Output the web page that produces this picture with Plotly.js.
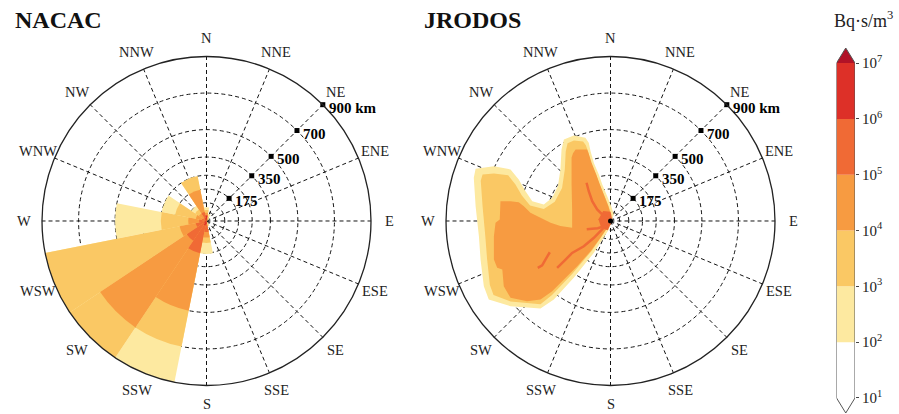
<!DOCTYPE html>
<html>
<head>
<meta charset="utf-8">
<script src="https://cdn.plot.ly/plotly-3.0.1.min.js"></script>
<style>
  html, body { margin: 0; padding: 0; background: #fff; }
  #chart { width: 899px; height: 414px; }
</style>
</head>
<body>
<div id="chart"></div>
<script>
// Compass sectors (bearing in degrees, clockwise from north)
const directions = ['N','NNE','NE','ENE','E','ESE','SE','SSE','S','SSW','SW','WSW','W','WNW','NW','NNW'];
const bearings = [0, 22.5, 45, 67.5, 90, 112.5, 135, 157.5, 180, 202.5, 225, 247.5, 270, 292.5, 315, 337.5];

// Distance rings (km) and the labelled ones along the NE spoke
const ringDistances = [50, 100, 175, 250, 350, 500, 700, 900];
const labelledDistances = [175, 350, 500, 700, 900];
const distanceLabels = ['175', '350', '500', '700', '900 km'];
const labelBearing = 45;

// Concentration levels (Bq·s/m³) and band colours
const levels = [1e1, 1e2, 1e3, 1e4, 1e5, 1e6, 1e7];
const bandColors = ['#FFFFFF', '#FDE9A0', '#FAC864', '#F79B41', '#F06A35', '#DD3028'];
const overColor = '#B11227';
const underColor = '#FFFFFF';
const levelTickText = ['10<sup>1</sup>','10<sup>2</sup>','10<sup>3</sup>','10<sup>4</sup>','10<sup>5</sup>','10<sup>6</sup>','10<sup>7</sup>'];

// NACAC: farthest distance (km) per sector at which each level is exceeded
const nacacReach1e2 = [75, 40, 20, 0, 0, 0, 0, 30, 180, 900, 900, 900, 500, 250, 100, 250];
const nacacReach1e3 = [60, 25, 10, 0, 0, 0, 0, 15, 120, 700, 900, 900, 250, 175, 75, 250];
const nacacReach1e4 = [45, 15, 0, 0, 0, 0, 0, 0, 90, 500, 700, 150, 100, 60, 50, 175];
const nacacReach1e5 = [30, 10, 0, 0, 0, 0, 0, 0, 60, 180, 130, 60, 40, 25, 20, 50];
const nacacReach1e6 = [30, 0, 0, 0, 0, 0, 0, 0, 15, 25, 15, 10, 10, 5, 5, 15];

// JRODOS plume contours, [east km, north km] from the source
const jrodos1e2 = [[9,8],[18,36],[4,81],[-18,136],[-45,200],[-64,254],[-91,318],[-109,382],[-119,428],
  [-137,455],[-201,468],[-255,446],[-268,391],[-274,282],[-288,190],[-319,127],[-365,90],[-428,108],
  [-465,163],[-502,227],[-547,282],[-638,300],[-738,286],[-748,236],[-738,81],[-720,-83],[-711,-211],
  [-693,-357],[-666,-429],[-547,-466],[-383,-479],[-310,-429],[-201,-311],[-91,-174],[-9,-46]];
const jrodos1e3 = [[0,5],[5,36],[-10,81],[-32,136],[-60,200],[-79,254],[-106,318],[-123,382],[-135,415],
  [-150,435],[-200,440],[-235,425],[-245,380],[-250,282],[-265,180],[-305,105],[-365,65],[-440,85],
  [-485,140],[-520,200],[-560,250],[-638,260],[-700,255],[-710,220],[-700,81],[-685,-83],[-675,-211],
  [-660,-350],[-640,-405],[-547,-440],[-383,-455],[-320,-405],[-210,-290],[-100,-160],[-15,-35]];
const jrodos1e4 = [[-5,-3],[2,20],[0,40],[-12,81],[-33,136],[-58,200],[-78,254],[-103,318],[-120,370],
  [-128,391],[-191,391],[-205,370],[-213,347],[-213,200],[-210,63],[-210,-37],[-274,-28],[-328,-10],
  [-383,18],[-438,45],[-474,81],[-502,103],[-547,108],[-602,108],[-606,8],[-629,-10],[-638,-83],
  [-638,-211],[-620,-256],[-592,-265],[-584,-357],[-547,-420],[-456,-439],[-383,-429],[-319,-384],
  [-255,-320],[-182,-247],[-109,-165],[-55,-92],[-18,-37]];
const jrodos1e5Core = [[10,5],[0,50],[-40,55],[-66,10],[-50,-40],[-15,-50],[5,-10]];
const jrodos1e5Streaks = [
  [[0,5],[-45,36],[-73,63],[-100,108],[-119,163],[-131,209]],
  [[0,-5],[-46,-46],[-91,-92],[-146,-138],[-210,-175],[-250,-215],[-292,-256]],
  [[-20,-25],[-70,-40],[-130,-45]],
  [[-332,-171],[-356,-211],[-374,-243],[-398,-256]]
];

const SERIF = 'Liberation Serif, Times New Roman, serif';
const GRID = '#151515';
const W = 899, H = 414;
const RIM_KM = 900;
const LABEL_R = 1000;   // radius (km scale) at which compass names sit, outside the rim
const polarDomains = {
  polar:  { x: [0.04672, 0.41268], y: [0.06884, 0.86353] },
  polar2: { x: [0.49611, 0.86207], y: [0.06884, 0.86353] }
};

function toPolar(pts) {
  return {
    r: pts.map(p => Math.hypot(p[0], p[1])),
    theta: pts.map(p => Math.atan2(p[0], p[1]) * 180 / Math.PI)
  };
}

const traces = [];

// NACAC sector bands, lowest level first so higher levels overlay them
[nacacReach1e2, nacacReach1e3, nacacReach1e4, nacacReach1e5, nacacReach1e6].forEach((reach, i) => {
  traces.push({
    type: 'barpolar', subplot: 'polar',
    r: reach, theta: bearings, width: bearings.map(() => 22.5),
    marker: { color: bandColors[i + 1], line: { width: 0 } },
    hoverinfo: 'skip'
  });
});

// JRODOS contour fills
function contourFill(pts, color) {
  const p = toPolar(pts);
  traces.push({
    type: 'scatterpolar', subplot: 'polar2', mode: 'lines',
    r: p.r.concat([p.r[0]]), theta: p.theta.concat([p.theta[0]]),
    fill: 'toself', fillcolor: color, line: { width: 0, color: color },
    hoverinfo: 'skip'
  });
}
contourFill(jrodos1e2, bandColors[1]);
contourFill(jrodos1e3, bandColors[2]);
contourFill(jrodos1e4, bandColors[3]);
contourFill(jrodos1e5Core, bandColors[4]);
jrodos1e5Streaks.forEach(s => {
  const p = toPolar(s);
  traces.push({
    type: 'scatterpolar', subplot: 'polar2', mode: 'lines',
    r: p.r, theta: p.theta,
    line: { width: 2.5, color: bandColors[4] },
    hoverinfo: 'skip'
  });
});
traces.push({
  type: 'scatterpolar', subplot: 'polar2', mode: 'markers',
  r: [0], theta: [0], marker: { size: 5, color: '#000' }, hoverinfo: 'skip'
});

// Distance markers along the NE spoke
['polar', 'polar2'].forEach(sp => {
  traces.push({
    type: 'scatterpolar', subplot: sp, mode: 'markers',
    r: labelledDistances, theta: labelledDistances.map(() => labelBearing),
    marker: { symbol: 'square', size: 5, color: '#000' },
    cliponaxis: false, hoverinfo: 'skip'
  });
});

// Colour scale bar with extension triangles
const EXT = 0.27; // length of the end triangles, in decades
for (let i = 0; i < bandColors.length; i++) {
  traces.push({
    type: 'scatter', xaxis: 'x', yaxis: 'y', mode: 'lines',
    x: [0, 1, 1, 0, 0], y: [levels[i], levels[i], levels[i + 1], levels[i + 1], levels[i]],
    fill: 'toself', fillcolor: bandColors[i], line: { width: 0 }, hoverinfo: 'skip'
  });
}
const levelMax = levels[levels.length - 1], levelMin = levels[0];
traces.push({
  type: 'scatter', xaxis: 'x', yaxis: 'y', mode: 'lines',
  x: [0, 0.5, 1, 0], y: [levelMax, levelMax * Math.pow(10, EXT), levelMax, levelMax],
  fill: 'toself', fillcolor: overColor, line: { width: 0 }, hoverinfo: 'skip'
});
traces.push({
  type: 'scatter', xaxis: 'x', yaxis: 'y', mode: 'lines',
  x: [0, 0.5, 1, 0], y: [levelMin, levelMin / Math.pow(10, EXT), levelMin, levelMin],
  fill: 'toself', fillcolor: underColor, line: { width: 0 }, hoverinfo: 'skip'
});
traces.push({
  type: 'scatter', xaxis: 'x', yaxis: 'y', mode: 'lines',
  x: [0, 0.5, 1, 1, 0.5, 0, 0],
  y: [levelMin, levelMin / Math.pow(10, EXT), levelMin, levelMax, levelMax * Math.pow(10, EXT), levelMax, levelMin],
  line: { width: 1, color: '#555' }, hoverinfo: 'skip'
});

function polarLayout(dom) {
  return {
    domain: dom,
    bgcolor: '#fff',
    barmode: 'overlay', bargap: 0,
    angularaxis: {
      direction: 'clockwise', rotation: 90, thetaunit: 'degrees',
      tickmode: 'array', tickvals: bearings, showticklabels: false, ticks: '',
      showgrid: true, gridcolor: GRID, gridwidth: 1.1, griddash: '4px,3px',
      showline: true, linecolor: '#222', linewidth: 1.3
    },
    radialaxis: {
      range: [0, RIM_KM], tickmode: 'array', tickvals: ringDistances,
      showticklabels: false, ticks: '', showline: false,
      showgrid: true, gridcolor: GRID, gridwidth: 1.1, griddash: '4px,3px'
    }
  };
}

// Compass names just outside each rim, and distance labels beside the NE markers
const rimLabels = [];
Object.values(polarDomains).forEach(dom => {
  const cx = (dom.x[0] + dom.x[1]) / 2 * W;
  const cy = (dom.y[0] + dom.y[1]) / 2 * H;
  const rimPx = (dom.x[1] - dom.x[0]) * W / 2;
  const at = (km, deg) => {
    const a = deg * Math.PI / 180, d = rimPx * km / RIM_KM;
    return { x: (cx + d * Math.sin(a)) / W, y: (cy + d * Math.cos(a)) / H };
  };
  directions.forEach((name, i) => {
    const p = at(LABEL_R, bearings[i]);
    rimLabels.push({
      text: name, xref: 'paper', yref: 'paper', x: p.x, y: p.y,
      xanchor: 'center', yanchor: 'middle', showarrow: false,
      font: { family: SERIF, size: 14.5, color: '#222' }
    });
  });
  labelledDistances.forEach((km, i) => {
    const p = at(km, labelBearing);
    rimLabels.push({
      text: '<b>' + distanceLabels[i] + '</b>', xref: 'paper', yref: 'paper', x: p.x, y: p.y,
      xanchor: 'left', yanchor: 'middle', xshift: 4, yshift: -3, showarrow: false,
      font: { family: SERIF, size: 15, color: '#000' }
    });
  });
});

const layout = {
  width: W, height: H,
  margin: { l: 0, r: 0, t: 0, b: 0 },
  paper_bgcolor: '#fff', plot_bgcolor: 'rgba(0,0,0,0)',
  showlegend: false,
  polar: polarLayout(polarDomains.polar),
  polar2: polarLayout(polarDomains.polar2),
  xaxis: { domain: [0.93048, 0.95106], range: [0, 1], visible: false, fixedrange: true },
  yaxis: {
    domain: [0.0024, 0.88406], type: 'log', range: [1 - EXT, 7 + EXT],
    side: 'right', anchor: 'x', tickmode: 'array', tickvals: levels, ticktext: levelTickText,
    ticks: 'outside', ticklen: 3, tickcolor: '#444', showgrid: false, zeroline: false, showline: false,
    tickfont: { family: SERIF, size: 15, color: '#222' }, fixedrange: true
  },
  annotations: [
    { text: '<b>NACAC</b>', xref: 'paper', yref: 'paper', x: 13 / W, y: 1 - 20 / H,
      xanchor: 'left', yanchor: 'middle', showarrow: false, font: { family: SERIF, size: 24, color: '#111' } },
    { text: '<b>JRODOS</b>', xref: 'paper', yref: 'paper', x: 422 / W, y: 1 - 20 / H,
      xanchor: 'left', yanchor: 'middle', showarrow: false, font: { family: SERIF, size: 24, color: '#111' } },
    { text: 'Bq·s/m<sup>3</sup>', xref: 'paper', yref: 'paper', x: 863 / W, y: 1 - 20 / H,
      xanchor: 'center', yanchor: 'middle', showarrow: false, font: { family: SERIF, size: 18, color: '#222' } }
  ].concat(rimLabels)
};

Plotly.newPlot('chart', traces, layout, { displayModeBar: false, responsive: false });
</script>
</body>
</html>
